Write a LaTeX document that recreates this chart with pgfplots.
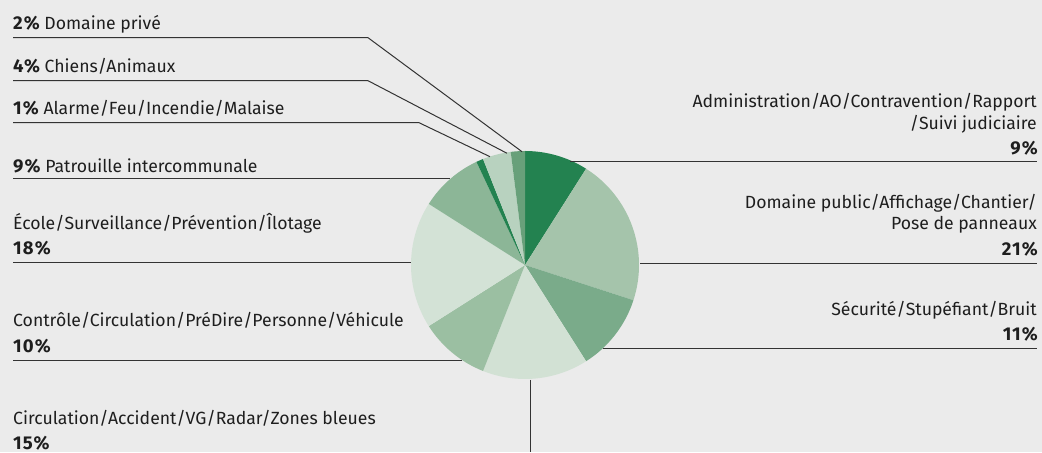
\documentclass[border=0pt]{standalone}
\usepackage{fontspec}
\setmainfont{Fira Sans}
\usepackage{pgfplots}
\usepackage{pgfplotstable}
\pgfplotsset{compat=1.18}

\definecolor{bg}{HTML}{EBEBEB}
\definecolor{txt}{HTML}{1E1E1E}
\definecolor{ln}{HTML}{333333}
\definecolor{s0}{HTML}{238250}
\definecolor{s1}{HTML}{A5C4AB}
\definecolor{s2}{HTML}{7AAB8A}
\definecolor{s3}{HTML}{D2E1D4}
\definecolor{s4}{HTML}{9BBFA2}
\definecolor{s5}{HTML}{D3E2D6}
\definecolor{s6}{HTML}{8CB697}
\definecolor{s7}{HTML}{238250}
\definecolor{s8}{HTML}{B8D2BF}
\definecolor{s9}{HTML}{68A07A}

% share in percent, clockwise from 12 o'clock
\pgfplotstableread[col sep=comma]{
pct
9
21
11
15
10
18
9
1
4
2
}\piedata

\newcommand\lbl{\fontsize{17.7}{21}\selectfont\color{txt}}
\newcommand\pc[1]{{\fontsize{18.6}{21}\selectfont\bfseries\addfontfeature{LetterSpace=6}#1\%}}
\gdef\cum{0}

\begin{document}
\begin{tikzpicture}
\begin{axis}[
  width=1042bp, height=452bp, scale only axis,
  xmin=0, xmax=1042, ymin=0, ymax=452,
  hide axis, clip=false,
]
\fill[bg] (axis cs:0,0) rectangle (axis cs:1042,452);
\pgfplotsinvokeforeach{0,...,9}{
  \pgfplotstablegetelem{#1}{pct}\of\piedata
  \let\p\pgfplotsretval
  \pgfmathsetmacro\a{90-3.6*\cum}
  \pgfmathsetmacro\b{\a-3.6*\p}
  \pgfmathsetmacro\c{\cum+\p}
  \xdef\cum{\c}
  \edef\tmp{\noexpand\fill[s#1] (axis cs:525,187) -- ++(\a:114bp) arc[start angle=\a, end angle=\b, radius=114bp] -- cycle;}
  \tmp
}
% leader lines
\draw[ln, line width=1bp] (axis cs:13,414.3) -- (axis cs:368,414.3) -- (axis cs:522,300.3);
\draw[ln, line width=1bp] (axis cs:13,371.3) -- (axis cs:368,371.3) -- (axis cs:507,298.7);
\draw[ln, line width=1bp] (axis cs:13,329.3) -- (axis cs:419,329.3) -- (axis cs:490,295.3);
\draw[ln, line width=1bp] (axis cs:13,273) -- (axis cs:450,273);
\draw[ln, line width=1bp] (axis cs:13,189.7) -- (axis cs:411,189.7);
\draw[ln, line width=1bp] (axis cs:13,91) -- (axis cs:462,91);
\draw[ln, line width=1bp] (axis cs:530,72) -- (axis cs:530,0);
\draw[ln, line width=1bp] (axis cs:603,103.7) -- (axis cs:1037,103.7);
\draw[ln, line width=1bp] (axis cs:640,188) -- (axis cs:1037,188);
\draw[ln, line width=1bp] (axis cs:570,290.3) -- (axis cs:1037,290.3);
% left labels
\node[anchor=base west, inner sep=0, font=\lbl] at (axis cs:13,422.5) {\pc{2} Domaine privé};
\node[anchor=base west, inner sep=0, font=\lbl] at (axis cs:13,379.3) {\pc{4} Chiens/Animaux};
\node[anchor=base west, inner sep=0, font=\lbl] at (axis cs:13,337) {\pc{1} Alarme/Feu/Incendie/Malaise};
\node[anchor=base west, inner sep=0, font=\lbl] at (axis cs:13,279.3) {\pc{9} Patrouille intercommunale};
\node[anchor=base west, inner sep=0, font=\lbl] at (axis cs:13,222.7) {École/Surveillance/Prévention/Îlotage};
\node[anchor=base west, inner sep=0, font=\lbl] at (axis cs:13,197) {\pc{18}};
\node[anchor=base west, inner sep=0, font=\lbl] at (axis cs:13,125.3) {Contrôle/Circulation/PréDire/Personne/Véhicule};
\node[anchor=base west, inner sep=0, font=\lbl] at (axis cs:13,99.3) {\pc{10}};
\node[anchor=base west, inner sep=0, font=\lbl] at (axis cs:13,28) {Circulation/Accident/VG/Radar/Zones bleues};
\node[anchor=base west, inner sep=0, font=\lbl] at (axis cs:13,3) {\pc{15}};
% right labels
\node[anchor=base east, inner sep=0, font=\lbl] at (axis cs:1037,344) {Administration/AO/Contravention/Rapport};
\node[anchor=base east, inner sep=0, font=\lbl] at (axis cs:1037,322) {/Suivi judiciaire};
\node[anchor=base east, inner sep=0, font=\lbl] at (axis cs:1038,297) {\pc{9}};
\node[anchor=base east, inner sep=0, font=\lbl] at (axis cs:1037,243.7) {Domaine public/Affichage/Chantier/};
\node[anchor=base east, inner sep=0, font=\lbl] at (axis cs:1037,222) {Pose de panneaux};
\node[anchor=base east, inner sep=0, font=\lbl] at (axis cs:1038,196) {\pc{21}};
\node[anchor=base east, inner sep=0, font=\lbl] at (axis cs:1037,136) {Sécurité/Stupéfiant/Bruit};
\node[anchor=base east, inner sep=0, font=\lbl] at (axis cs:1038,111) {\pc{11}};
\end{axis}
\end{tikzpicture}
\end{document}
